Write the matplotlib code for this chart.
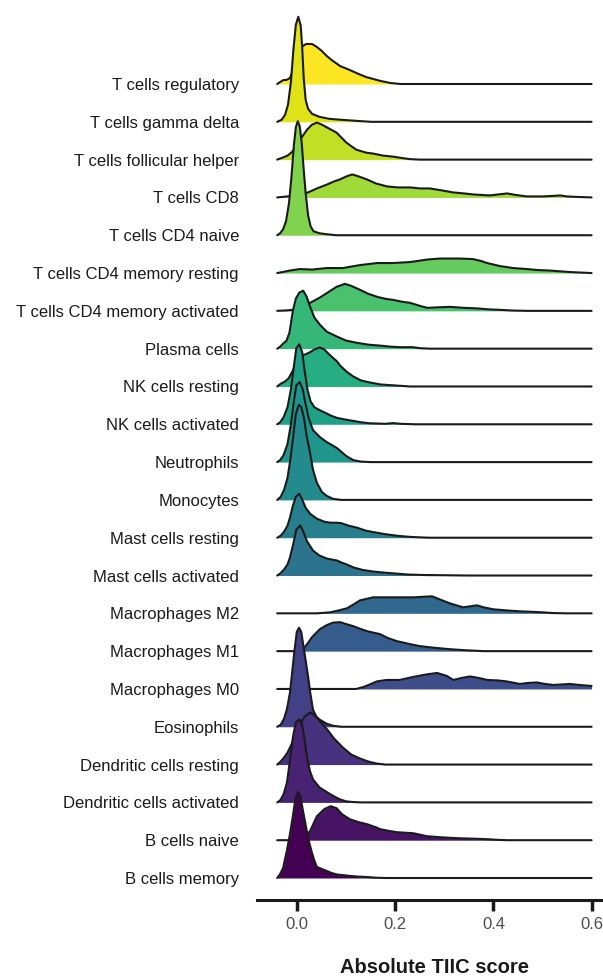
import matplotlib
matplotlib.use("Agg")
import matplotlib.pyplot as plt
import numpy as np

plt.rcParams['font.family'] = ['Liberation Sans', 'DejaVu Sans']

# rows, bottom to top
categories = [
    "B cells memory", "B cells naive", "Dendritic cells activated",
    "Dendritic cells resting", "Eosinophils", "Macrophages M0",
    "Macrophages M1", "Macrophages M2", "Mast cells activated",
    "Mast cells resting", "Monocytes", "Neutrophils", "NK cells activated",
    "NK cells resting", "Plasma cells", "T cells CD4 memory activated",
    "T cells CD4 memory resting", "T cells CD4 naive", "T cells CD8",
    "T cells follicular helper", "T cells gamma delta", "T cells regulatory",
]

# (score, density)
b_cells_memory = [(-0.041, 0), (-0.035, 4), (-0.029, 10), (-0.021, 28), (-0.015, 44),
                  (-0.009, 62), (-0.004, 79), (0.0014, 86), (0.006, 82), (0.012, 66),
                  (0.02, 45), (0.025, 34), (0.03, 25), (0.035, 17), (0.04, 11),
                  (0.05, 9), (0.06, 7), (0.07, 5), (0.081, 3.5), (0.1, 2.5),
                  (0.12, 1.5), (0.142, 1), (0.16, 0.3), (0.18, 0), (0.6, 0)]
b_cells_naive = [(-0.041, 0), (-0.02, 0), (0.0, 1), (0.015, 4), (0.026, 9), (0.04, 24),
                 (0.055, 31), (0.068, 34), (0.08, 32), (0.091, 26), (0.107, 21),
                 (0.125, 18), (0.142, 16), (0.16, 13), (0.169, 11), (0.19, 9),
                 (0.203, 8), (0.236, 7), (0.264, 4), (0.29, 3), (0.326, 2),
                 (0.36, 1.5), (0.387, 1), (0.41, 0.3), (0.43, 0), (0.6, 0)]
dc_activated = [(-0.041, 0), (-0.035, 2), (-0.028, 8), (-0.021, 20), (-0.015, 42),
                (-0.009, 65), (-0.003, 80), (0.004, 83), (0.01, 77), (0.015, 62),
                (0.02, 44), (0.026, 31), (0.032, 23), (0.045, 15), (0.061, 10),
                (0.075, 6), (0.087, 3), (0.1, 1), (0.115, 0.3), (0.13, 0), (0.6, 0)]
dc_resting = [(-0.041, 0), (-0.034, 3), (-0.027, 7), (-0.02, 12), (-0.012, 20),
              (-0.004, 30), (0.005, 40), (0.015, 48), (0.026, 52), (0.034, 50),
              (0.045, 44), (0.061, 35), (0.075, 26), (0.093, 17), (0.11, 10),
              (0.128, 6), (0.145, 3), (0.162, 1), (0.18, 0), (0.6, 0)]
eosinophils = [(-0.041, 0), (-0.034, 2), (-0.027, 8), (-0.021, 18), (-0.015, 34),
               (-0.011, 52), (-0.006, 75), (-0.001, 95), (0.0035, 99), (0.008, 95),
               (0.013, 79), (0.018, 63), (0.022, 50), (0.027, 32), (0.032, 17),
               (0.039, 10), (0.046, 7), (0.06, 3), (0.073, 1), (0.09, 0), (0.6, 0)]
macrophages_m0 = [(-0.041, 0), (0.12, 0), (0.135, 2), (0.148, 4.5), (0.162, 7.5),
                  (0.182, 9), (0.209, 9), (0.236, 12), (0.263, 14.5), (0.285, 16),
                  (0.305, 13), (0.318, 9), (0.335, 11), (0.352, 12.5), (0.37, 11),
                  (0.387, 9), (0.41, 8.5), (0.427, 7.5), (0.454, 5), (0.47, 6),
                  (0.488, 6.5), (0.505, 5), (0.522, 4), (0.54, 4.5), (0.556, 5),
                  (0.575, 4), (0.6, 3)]
macrophages_m1 = [(-0.041, 0), (0.005, 0), (0.012, 2), (0.02, 7), (0.03, 14),
                  (0.046, 22), (0.06, 26), (0.073, 28.5), (0.087, 29), (0.1, 27),
                  (0.114, 25), (0.13, 22), (0.142, 20), (0.155, 18.5), (0.169, 17),
                  (0.185, 13), (0.203, 10), (0.23, 7), (0.25, 5), (0.277, 3.5),
                  (0.31, 2), (0.34, 1), (0.36, 0.5), (0.38, 0), (0.6, 0)]
macrophages_m2 = [(-0.041, 0), (0.04, 0), (0.067, 1), (0.085, 3), (0.101, 5),
                  (0.115, 9), (0.128, 13), (0.155, 16), (0.18, 16), (0.195, 16),
                  (0.236, 16), (0.255, 16.5), (0.275, 17), (0.29, 14), (0.311, 10),
                  (0.338, 6), (0.352, 7), (0.366, 8), (0.38, 6), (0.4, 4),
                  (0.425, 3), (0.454, 2), (0.48, 1.5), (0.5, 1), (0.52, 0.3),
                  (0.55, 0), (0.6, 0)]
mast_activated = [(-0.041, 0), (-0.035, 2), (-0.027, 6), (-0.02, 11), (-0.015, 18),
                  (-0.008, 32), (-0.002, 46), (0.006, 50), (0.012, 44), (0.02, 34),
                  (0.032, 25), (0.045, 20), (0.06, 17), (0.081, 15), (0.09, 13),
                  (0.101, 11), (0.115, 8), (0.134, 5.5), (0.155, 4), (0.175, 3),
                  (0.2, 2), (0.225, 1), (0.26, 0.5), (0.3, 0.3), (0.35, 0), (0.6, 0)]
mast_resting = [(-0.041, 0), (-0.034, 2), (-0.027, 6), (-0.02, 12), (-0.015, 20),
                (-0.009, 32), (-0.003, 41), (0.004, 44), (0.01, 38), (0.017, 30),
                (0.026, 24), (0.04, 19), (0.055, 16), (0.067, 15), (0.08, 15),
                (0.09, 14.5), (0.105, 12), (0.122, 10), (0.14, 7), (0.162, 5),
                (0.18, 3.5), (0.203, 2), (0.225, 1), (0.244, 0.5), (0.27, 0), (0.6, 0)]
monocytes = [(-0.041, 0), (-0.034, 3), (-0.027, 10), (-0.02, 22), (-0.014, 41),
             (-0.008, 65), (-0.003, 86), (0.003, 95), (0.008, 93), (0.014, 81),
             (0.019, 64), (0.026, 47), (0.032, 30), (0.04, 17), (0.05, 8),
             (0.06, 4), (0.073, 1), (0.09, 0), (0.6, 0)]
neutrophils = [(-0.041, 0), (-0.035, 2), (-0.028, 7), (-0.02, 18), (-0.013, 38),
               (-0.007, 61), (-0.002, 77), (0.005, 80), (0.011, 73), (0.016, 60),
               (0.023, 44), (0.032, 32), (0.046, 25), (0.06, 20), (0.081, 14),
               (0.1, 6), (0.114, 2), (0.13, 0.5), (0.15, 0), (0.6, 0)]
nk_activated = [(-0.041, 0), (-0.035, 2), (-0.028, 7), (-0.02, 17), (-0.013, 35),
                (-0.007, 58), (-0.002, 76), (0.004, 80), (0.01, 72), (0.015, 53),
                (0.021, 34), (0.027, 23), (0.035, 17), (0.046, 14), (0.055, 12),
                (0.067, 9), (0.08, 6.5), (0.095, 5), (0.107, 4), (0.13, 2),
                (0.148, 1), (0.18, 0.5), (0.195, 1.2), (0.21, 0.5), (0.24, 0), (0.6, 0)]
nk_resting = [(-0.041, 0), (-0.033, 3), (-0.025, 5), (-0.018, 8), (-0.01, 15),
              (0.0, 26), (0.008, 31), (0.016, 32), (0.025, 34), (0.035, 37),
              (0.046, 39), (0.055, 37), (0.065, 32), (0.081, 25), (0.087, 21),
              (0.1, 15), (0.114, 10), (0.13, 6), (0.148, 4), (0.17, 2),
              (0.2, 1), (0.23, 0), (0.6, 0)]
plasma_cells = [(-0.041, 0), (-0.035, 2), (-0.029, 5), (-0.022, 8), (-0.016, 16),
                (-0.009, 38), (-0.003, 50), (0.004, 56), (0.012, 58), (0.019, 52),
                (0.026, 42), (0.035, 31), (0.046, 24), (0.06, 17), (0.081, 12),
                (0.1, 8), (0.12, 6), (0.145, 4), (0.17, 3), (0.19, 2), (0.21, 1.5),
                (0.235, 1.5), (0.25, 0.5), (0.27, 0), (0.6, 0)]
cd4_memory_activated = [(-0.041, 0), (-0.02, 0.5), (-0.009, 1), (0.005, 3), (0.026, 8),
                        (0.045, 13), (0.061, 18), (0.08, 24), (0.097, 27), (0.11, 25),
                        (0.128, 21), (0.145, 17), (0.163, 14), (0.18, 12), (0.195, 11),
                        (0.215, 9), (0.23, 8), (0.25, 5), (0.265, 3), (0.285, 3.5),
                        (0.311, 4), (0.34, 3), (0.366, 2.5), (0.39, 1.5), (0.413, 1),
                        (0.44, 0.3), (0.47, 0), (0.6, 0)]
cd4_memory_resting = [(-0.041, 0), (-0.03, 1), (-0.015, 2.5), (0.005, 4), (0.03, 3.5),
                      (0.06, 5), (0.093, 5), (0.128, 8), (0.163, 10), (0.195, 10),
                      (0.23, 11), (0.265, 13.5), (0.29, 14.5), (0.33, 14.5),
                      (0.358, 14), (0.375, 12), (0.387, 10), (0.413, 7), (0.44, 5),
                      (0.468, 4), (0.49, 3), (0.515, 2.5), (0.556, 1), (0.6, 0)]
cd4_naive = [(-0.041, 0), (-0.035, 2), (-0.029, 6), (-0.023, 14), (-0.017, 32),
             (-0.012, 58), (-0.007, 90), (-0.003, 108), (0.001, 114), (0.005, 109),
             (0.009, 92), (0.013, 66), (0.017, 42), (0.022, 20), (0.027, 9),
             (0.033, 4), (0.045, 2), (0.06, 1), (0.08, 0), (0.6, 0)]
cd8 = [(-0.041, 0), (-0.02, 1), (0.0, 2), (0.022, 5), (0.04, 9), (0.061, 13),
       (0.075, 16), (0.087, 18), (0.1, 21), (0.112, 23), (0.125, 21), (0.142, 18),
       (0.16, 14), (0.183, 11), (0.205, 10), (0.23, 10), (0.25, 9), (0.27, 9),
       (0.295, 7), (0.318, 5), (0.34, 4), (0.358, 3), (0.375, 2.5), (0.393, 2),
       (0.41, 3), (0.428, 4), (0.445, 2.5), (0.468, 1), (0.5, 1), (0.52, 1.5),
       (0.536, 2), (0.55, 1), (0.57, 0.5), (0.6, 0)]
follicular_helper = [(-0.041, 0), (-0.03, 2), (-0.02, 4), (-0.01, 8), (0.0, 15),
                     (0.01, 23), (0.02, 30), (0.03, 35), (0.04, 37), (0.05, 35),
                     (0.065, 31), (0.08, 27), (0.09, 22), (0.1, 17), (0.12, 10),
                     (0.14, 7), (0.155, 6), (0.175, 4), (0.195, 3), (0.215, 1.5),
                     (0.23, 0.5), (0.25, 0), (0.6, 0)]
gamma_delta = [(-0.041, 0), (-0.032, 2), (-0.025, 7), (-0.019, 17), (-0.013, 40),
               (-0.008, 72), (-0.003, 97), (0.002, 105), (0.007, 96), (0.01, 74),
               (0.013, 44), (0.017, 22), (0.022, 13), (0.03, 8), (0.045, 5),
               (0.065, 3), (0.09, 2), (0.12, 1), (0.15, 0), (0.6, 0)]
t_regulatory = [(-0.041, 0), (-0.035, 2), (-0.028, 4), (-0.022, 4), (-0.015, 6),
                (-0.008, 14), (0.0, 28), (0.008, 37), (0.018, 40), (0.03, 40),
                (0.04, 37), (0.05, 33), (0.06, 28), (0.07, 24), (0.087, 18),
                (0.107, 14), (0.125, 10), (0.14, 7), (0.155, 5), (0.17, 3),
                (0.19, 1), (0.21, 0), (0.6, 0)]

ridges = [b_cells_memory, b_cells_naive, dc_activated, dc_resting, eosinophils,
          macrophages_m0, macrophages_m1, macrophages_m2, mast_activated,
          mast_resting, monocytes, neutrophils, nk_activated, nk_resting,
          plasma_cells, cd4_memory_activated, cd4_memory_resting, cd4_naive,
          cd8, follicular_helper, gamma_delta, t_regulatory]

x_ticks = [0.0, 0.2, 0.4, 0.6]
x_tick_labels = ["0.0", "0.2", "0.4", "0.6"]

ROW = 37.8  # density units per row step

fig = plt.figure(figsize=(6.03, 9.77), dpi=100)
ax = fig.add_axes([0.4262, 0.0788, 0.5738, 0.9161])
cmap = plt.get_cmap("viridis")
n = len(categories)

# draw top row first so lower ridges sit in front
for i in range(n - 1, -1, -1):
    pts = np.array(ridges[i], dtype=float)
    x = pts[:, 0]
    top = i + pts[:, 1] / ROW
    z = 2 * (n - i)
    ax.fill_between(x, i, top, color=cmap(i / (n - 1)), lw=0, zorder=z)
    ax.plot(x, top, color="#1a1a1a", lw=1.5, zorder=z + 1,
            solid_joinstyle="round", solid_capstyle="round")

ax.set_xlim(-0.0822, 0.6233)
ax.set_ylim(-0.582, 23.09)

ax.set_yticks(range(n))
ax.set_yticklabels(categories)
ax.tick_params(axis="y", length=0, pad=13, labelsize=12, labelcolor="#1a1a1a")

ax.set_xticks(x_ticks)
ax.set_xticklabels(x_tick_labels)
ax.tick_params(axis="x", direction="out", length=8, width=2.5, pad=4,
               labelsize=12, labelcolor="#4d4d4d", color="#1a1a1a")

for side in ["top", "right", "left"]:
    ax.spines[side].set_visible(False)
ax.spines["bottom"].set_linewidth(2.2)
ax.spines["bottom"].set_color("#1a1a1a")

ax.set_xlabel("Absolute TIIC score", fontsize=14.5, fontweight="bold", color="#1a1a1a")
ax.xaxis.set_label_coords(0.512, -0.075)
ax.xaxis.label.set_va("center")

fig.savefig("out.png", dpi=100)
